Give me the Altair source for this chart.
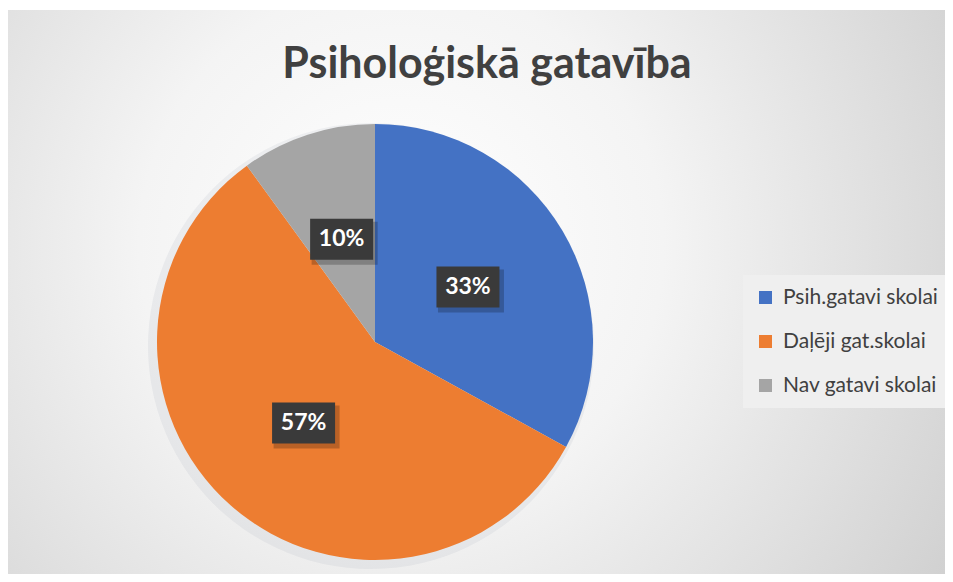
import altair as alt
import pandas as pd

title_text = "Psiholoģiskā gatavība"
categories = ["Psih.gatavi skolai", "Daļēji gat.skolai", "Nav gatavi skolai"]
values = [33, 57, 10]
colors = ["#4472C4", "#ED7D31", "#A5A5A5"]

df = pd.DataFrame({"cat": categories, "value": values, "idx": list(range(len(values)))})

W, H = 937, 566
CX, CY, R, LR = 367, 334, 218, 108

bg = alt.Chart(pd.DataFrame({"a": [0]})).mark_rect(
    fill=alt.Gradient(
        gradient="radial",
        stops=[
            alt.GradientStop(color="#ffffff", offset=0),
            alt.GradientStop(color="#f4f4f4", offset=0.35),
            alt.GradientStop(color="#c6c6c6", offset=1),
        ],
        x1=0.42, y1=0.45, x2=0.42, y2=0.45, r1=0, r2=0.8,
    )
).encode(x=alt.value(0), x2=alt.value(W), y=alt.value(2), y2=alt.value(H))

shadow = alt.Chart(df).mark_arc(outerRadius=R + 5, opacity=0.07, color="#5a6a80").encode(
    theta=alt.Theta("value:Q", stack=True),
    order=alt.Order("idx:Q"),
    x=alt.value(CX - 4), y=alt.value(CY + 4),
)

pie = alt.Chart(df).mark_arc(outerRadius=R).encode(
    theta=alt.Theta("value:Q", stack=True),
    order=alt.Order("idx:Q"),
    color=alt.Color(
        "cat:N",
        scale=alt.Scale(domain=categories, range=colors),
        legend=alt.Legend(
            orient="none", legendX=735, legendY=267, title=None,
            fillColor="#efefef", padding=12, symbolType="square",
            symbolSize=170, symbolStrokeWidth=0, labelFont="Lato",
            labelFontSize=21, labelColor="#404040", rowPadding=22,
            labelOffset=7,
        ),
    ),
    x=alt.value(CX), y=alt.value(CY),
)

base_lab = alt.Chart(df).transform_joinaggregate(
    total="sum(value)"
).transform_window(
    cum="sum(value)", sort=[alt.SortField("idx")], frame=[None, 0]
).transform_calculate(
    mid="(datum.cum - datum.value/2)/datum.total*2*PI",
    px=f"{CX} + {LR}*sin(datum.mid)",
    py=f"{CY} - {LR}*cos(datum.mid)",
    lab="datum.value + '%'",
)

box_shape = "M-1,-0.65L1,-0.65L1,0.65L-1,0.65Z"
box_shadow = base_lab.mark_point(
    shape=box_shape, filled=True, size=66 * 66, color="#000000", opacity=0.22,
    strokeWidth=0, xOffset=3, yOffset=4,
).encode(x=alt.X("px:Q", scale=None, axis=None), y=alt.Y("py:Q", scale=None, axis=None))
box = base_lab.mark_point(
    shape=box_shape, filled=True, size=63 * 63, color="#3a3a3a", opacity=1,
    strokeWidth=0,
).encode(x=alt.X("px:Q", scale=None, axis=None), y=alt.Y("py:Q", scale=None, axis=None))
txt = base_lab.mark_text(
    font="Lato", fontSize=23, fontWeight="bold", color="#ffffff", baseline="middle", align="center"
).encode(x=alt.X("px:Q", scale=None, axis=None), y=alt.Y("py:Q", scale=None, axis=None), text="lab:N")

title = alt.Chart(pd.DataFrame({"t": [title_text]})).mark_text(
    font="Lato", fontSize=43, fontWeight="bold", color="#404040", baseline="alphabetic", align="center"
).encode(text="t:N", x=alt.value(479), y=alt.value(70))

chart = alt.layer(bg, shadow, pie, box_shadow, box, txt, title).properties(
    width=W, height=H, autosize=alt.AutoSizeParams(type="none"), padding=0,
    background="#ffffff",
).configure_view(stroke=None)

chart.save("out.html", embed_options={"renderer": "svg", "actions": False})
